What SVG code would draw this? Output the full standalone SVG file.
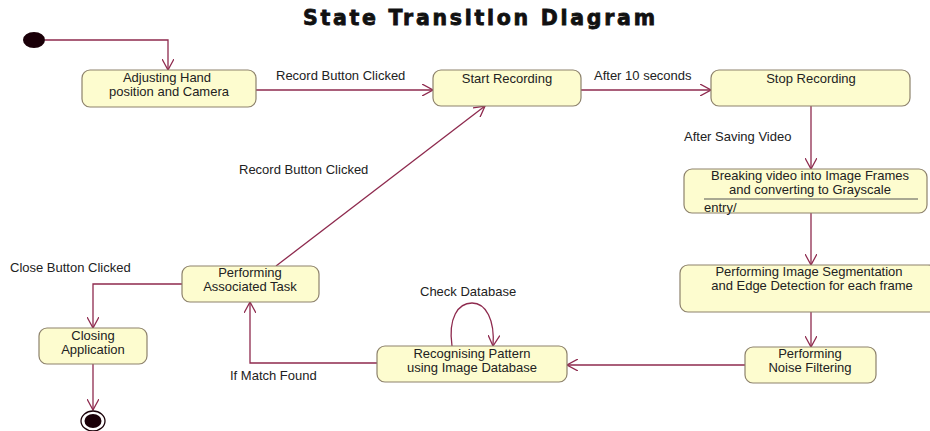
<svg xmlns="http://www.w3.org/2000/svg" width="930" height="431" viewBox="0 0 930 431">
<style>
.node rect{fill:#fdfccf;stroke:#8d826c;stroke-width:1.2}
.t{font-family:"Liberation Sans",Arial,sans-serif;font-size:13px;fill:#222;text-anchor:middle}
.l{font-family:"Liberation Sans",Arial,sans-serif;font-size:13px;fill:#222}
.c path{fill:none;stroke:#8e2a4e;stroke-width:1.3}
.title{font-family:"DejaVu Sans",Verdana,sans-serif;font-size:20.5px;font-weight:bold;fill:#111;text-anchor:middle}
</style>
<defs>
<marker id="a" viewBox="0 0 12 12" refX="11" refY="6" markerWidth="12" markerHeight="12" markerUnits="userSpaceOnUse" orient="auto">
<path d="M0,0 L11,6 L0,12" fill="none" stroke="#8e2a4e" stroke-width="1.3"/>
</marker>
</defs>
<rect width="930" height="431" fill="#fff"/>
<text class="title" x="479" y="25" textLength="352" lengthAdjust="spacing" stroke="#111" stroke-width="0.8">State Transition Diagram</text>

<g class="c">
<path d="M45,40 H168 V70" marker-end="url(#a)"/>
<path d="M256,90 H433" marker-end="url(#a)"/>
<path d="M581,90 H711" marker-end="url(#a)"/>
<path d="M811,106 V169" marker-end="url(#a)"/>
<path d="M811,213 V265" marker-end="url(#a)"/>
<path d="M811,312 V347" marker-end="url(#a)"/>
<path d="M745,365 H567" marker-end="url(#a)"/>
<path d="M452,346 C448,318 458,303 472,303 C486,303 495,320 493,346" marker-end="url(#a)"/>
<path d="M377,363 H250 V302" marker-end="url(#a)"/>
<path d="M276,266 L485,106" marker-end="url(#a)"/>
<path d="M182,284 H93 V328" marker-end="url(#a)"/>
<path d="M93,364 V410" marker-end="url(#a)"/>
</g>

<g id="labels">
<text class="l" x="276" y="80">Record Button Clicked</text>
<text class="l" x="594" y="80">After 10 seconds</text>
<text class="l" x="684" y="141">After Saving Video</text>
<text class="l" x="239" y="174">Record Button Clicked</text>
<text class="l" x="10" y="272">Close Button Clicked</text>
<text class="l" x="420" y="296">Check Database</text>
<text class="l" x="230" y="380">If Match Found</text>
</g>

<g id="initial"><ellipse cx="34" cy="40" rx="11" ry="8" fill="#1a0008"/></g>

<g id="adjusting" class="node"><rect x="82" y="70" width="174" height="37" rx="8"/>
<text class="t" x="167" y="82">Adjusting Hand</text><text class="t" x="169" y="96">position and Camera</text></g>

<g id="start" class="node"><rect x="433" y="70" width="148" height="36" rx="8"/>
<text class="t" x="507" y="83">Start Recording</text></g>

<g id="stop" class="node"><rect x="711" y="70" width="199" height="36" rx="8"/>
<text class="t" x="811" y="83">Stop Recording</text></g>

<g id="breaking" class="node"><rect x="684" y="169" width="243" height="44" rx="8"/>
<text class="t" x="810" y="180">Breaking video into Image Frames</text>
<text class="t" x="810" y="194">and converting to Grayscale</text>
<line x1="704" y1="199" x2="918" y2="199" stroke="#555" stroke-width="1"/>
<text class="t" x="704" y="212" style="text-anchor:start">entry/</text></g>

<g id="segmentation" class="node"><rect x="680" y="265" width="256" height="47" rx="8"/>
<text class="t" x="809" y="276">Performing Image Segmentation</text>
<text class="t" x="812" y="290">and Edge Detection for each frame</text></g>

<g id="noise" class="node"><rect x="745" y="347" width="131" height="36" rx="8"/>
<text class="t" x="810" y="358">Performing</text><text class="t" x="810" y="372">Noise Filtering</text></g>

<g id="recognising" class="node"><rect x="377" y="346" width="190" height="36" rx="8"/>
<text class="t" x="472" y="358">Recognising Pattern</text><text class="t" x="472" y="372">using Image Database</text></g>

<g id="task" class="node"><rect x="182" y="266" width="137" height="36" rx="8"/>
<text class="t" x="250" y="277">Performing</text><text class="t" x="250" y="291">Associated Task</text></g>

<g id="closing" class="node"><rect x="39" y="328" width="108" height="36" rx="8"/>
<text class="t" x="93" y="340">Closing</text><text class="t" x="93" y="354">Application</text></g>

<g id="final"><ellipse cx="93" cy="421" rx="12" ry="10" fill="#fff" stroke="#1a0008" stroke-width="1.3"/>
<ellipse cx="93" cy="421" rx="8.5" ry="7" fill="#1a0008"/></g>
</svg>
